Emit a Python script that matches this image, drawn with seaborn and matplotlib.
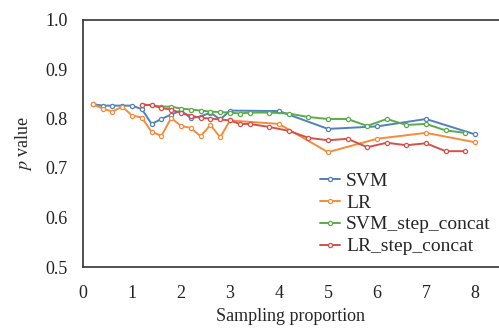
import matplotlib
matplotlib.use("Agg")
import matplotlib.pyplot as plt
import seaborn as sns
import pandas as pd

# Data
x_base = [0.2, 0.4, 0.6, 0.8, 1.0, 1.2, 1.4, 1.6, 1.8, 2.0, 2.2, 2.4, 2.6, 2.8, 3.0, 4.0, 5.0, 6.0, 7.0, 8.0]
svm = [0.829, 0.826, 0.826, 0.826, 0.826, 0.819, 0.789, 0.799, 0.808, 0.816, 0.801, 0.804, 0.812, 0.798, 0.816,
       0.815, 0.779, 0.784, 0.799, 0.768]
lr = [0.829, 0.820, 0.814, 0.824, 0.806, 0.802, 0.773, 0.765, 0.801, 0.785, 0.781, 0.764, 0.787, 0.762, 0.796,
      0.789, 0.732, 0.759, 0.771, 0.752]
x_step = [1.2, 1.4, 1.6, 1.8, 2.0, 2.2, 2.4, 2.6, 2.8, 3.0, 3.2, 3.4, 3.8, 4.2, 4.6, 5.0, 5.4, 5.8, 6.2, 6.6,
          7.0, 7.4, 7.8]
svm_step = [0.828, 0.827, 0.824, 0.824, 0.820, 0.818, 0.816, 0.814, 0.813, 0.812, 0.810, 0.812, 0.812, 0.810,
            0.803, 0.799, 0.799, 0.785, 0.799, 0.787, 0.789, 0.776, 0.771]
lr_step = [0.828, 0.827, 0.821, 0.818, 0.811, 0.806, 0.801, 0.800, 0.798, 0.796, 0.789, 0.789, 0.783, 0.775,
           0.761, 0.756, 0.759, 0.742, 0.751, 0.746, 0.750, 0.734, 0.734]
series_names = ["SVM", "LR", "SVM_step_concat", "LR_step_concat"]
colors = ["#4f81bd", "#f68b3c", "#5aab4a", "#d6504a"]
x_ticks = [0, 1, 2, 3, 4, 5, 6, 7, 8]
y_ticks = [0.5, 0.6, 0.7, 0.8, 0.9, 1.0]

frames = []
for name, xs, ys in [(series_names[0], x_base, svm), (series_names[1], x_base, lr),
                     (series_names[2], x_step, svm_step), (series_names[3], x_step, lr_step)]:
    frames.append(pd.DataFrame({"x": xs, "y": ys, "series": name}))
df = pd.concat(frames, ignore_index=True)

sns.set_style("white")
plt.rcParams["font.family"] = ["Liberation Serif", "DejaVu Serif"]
plt.rcParams["mathtext.fontset"] = "stix"

fig = plt.figure(figsize=(4.99, 3.33), dpi=100)
ax = fig.add_axes([83 / 499, 1 - 267 / 333, 1 - 83 / 499, (267 - 19.5) / 333])

for name, col in zip(series_names, colors):
    sub = df[df["series"] == name]
    sns.lineplot(data=sub, x="x", y="y", ax=ax, color=col, label=name, linewidth=1.4,
                 marker="o", markersize=3.0, markerfacecolor="white", markeredgecolor=col,
                 markeredgewidth=0.9)

ax.set_xlim(0, 8.49)
ax.set_ylim(0.5, 1.0)
ax.set_xticks(x_ticks)
ax.set_yticks(y_ticks)
ax.set_xticklabels([str(t) for t in x_ticks])
ax.set_yticklabels([f"{t:.1f}" for t in y_ticks])
ax.tick_params(axis="x", direction="in", length=4, width=1, pad=13, labelsize=13, colors="#222222")
ax.tick_params(axis="y", direction="in", length=4, width=1, pad=11, labelsize=13, colors="#222222")
for s in ["left", "bottom", "top"]:
    ax.spines[s].set_color("#333333")
    ax.spines[s].set_linewidth(1.2)
ax.spines["right"].set_visible(False)

ax.set_xlabel("Sampling proportion", fontsize=13, labelpad=4)
ax.set_ylabel("$\\mathit{p}$ value", fontsize=13, labelpad=8)

leg = ax.legend(loc="upper left", bbox_to_anchor=(0.551, 0.415), frameon=False, fontsize=14,
                handlelength=1.05, handletextpad=0.3, labelspacing=0.22, borderaxespad=0)

fig.savefig("out.png", dpi=100)
